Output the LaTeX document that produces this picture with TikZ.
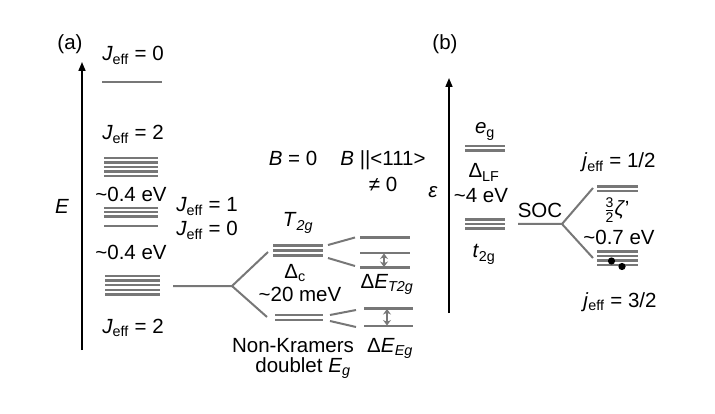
\documentclass[tikz,border=0pt]{standalone}
\usepackage{fontspec}
\setmainfont{Liberation Sans}
\usepackage{amsmath}
\usepackage{xcolor}
\usetikzlibrary{arrows.meta}

\definecolor{lvlgray}{HTML}{777777}
\newcommand{\Jeff}{\textit{J}\textsubscript{eff}}
\newcommand{\jeff}{\textit{j}\textsubscript{eff}}

\begin{document}
\begin{tikzpicture}[x=1pt,y=-1pt,font=\fontsize{20.5}{24}\selectfont,
  level/.style={lvlgray,line width=2.3pt},
  conn/.style={lvlgray,line width=2pt},
  split/.style={lvlgray,line width=2.6pt,{Stealth[length=5.5pt,width=8pt]}-{Stealth[length=5.5pt,width=8pt]}},
  axis/.style={line width=1.6pt,-{Triangle[length=9pt,width=7pt]}},
  lab/.style={anchor=base,inner sep=0pt}]
\useasboundingbox (0,0) rectangle (715,414);

\node[lab] (pa) at (70,50) {(a)};
\node[lab] (pb) at (445,50) {(b)};

\coordinate (Ebot) at (82,350);
\coordinate (Etop) at (82,62);
\draw[axis] (Ebot) -- (Etop);
\node[lab] (Elab) at (62,214) {\textit{E}};

\node[lab] (J0top) at (133,61) {\Jeff{} = 0};
\draw[level] (102,82) -- (162,82);
\node[lab] (J2top) at (133,140) {\Jeff{} = 2};
\foreach \y in {158,162.5,167,171.5,176}
  \draw[level] (104,\y) -- (158,\y);
\node[lab] (gapA) at (131,202) {\textasciitilde 0.4 eV};
\foreach \y in {208,212.3,216.6}
  \draw[level] (104,\y) -- (158,\y);
\draw[level] (104,226) -- (158,226);
\node[lab] (J1) at (207,212) {\Jeff{} = 1};
\node[lab] (J0) at (207,236) {\Jeff{} = 0};
\node[lab] (gapB) at (131,259) {\textasciitilde 0.4 eV};
\foreach \y in {276,280.6,285.2,289.8,294.4}
  \draw[level] (105,\y) -- (160,\y);
\node[lab] (J2bot) at (133,333) {\Jeff{} = 2};

\coordinate (lowR) at (173,286);
\coordinate (forkA) at (232,286);
\coordinate (t2gL) at (268,252);
\coordinate (egL) at (267,317);
\draw[conn] (lowR) -- (forkA) -- (t2gL);
\draw[conn] (forkA) -- (egL);

\foreach \y in {245.5,250.5,255.5}
  \draw[level] (273,\y) -- (323,\y);
\foreach \y in {315,320}
  \draw[level] (275,\y) -- (323,\y);

\node[lab] (Bzero) at (293,166) {\textit{B} = 0};
\node[lab] (Bfield) at (383,166) {\textit{B} ||<111>};
\node[lab] (Bne) at (383,192) {≠ 0};
\node[lab] (T2g) at (298,227) {\textit{T}\textsubscript{\textit{2g}}};
\node[lab] (Dc) at (295,278) {Δ\textsubscript{c}};
\node[lab] (meV) at (300,301) {\textasciitilde 20 meV};
\node[lab] (NK) at (293,352) {Non-Kramers};
\node[lab] (dbl) at (303,372) {doublet \textit{E}\textsubscript{\textit{g}}};

\coordinate (t2gRa) at (328,245);
\coordinate (t2gRb) at (328,258);
\coordinate (t2gSa) at (355,237.5);
\coordinate (t2gSb) at (355,266);
\draw[conn] (t2gRa) -- (t2gSa);
\draw[conn] (t2gRb) -- (t2gSb);
\foreach \y in {237.5,253,267.5}
  \draw[level] (360,\y) -- (410,\y);
\draw[split] (384,253.5) -- (384,267);
\node[lab] (dET) at (387,288) {Δ\textit{E}\textsubscript{\textit{T2g}}};

\coordinate (egRa) at (330,315);
\coordinate (egRb) at (330,321);
\coordinate (egSa) at (356,310);
\coordinate (egSb) at (356,327);
\draw[conn] (egRa) -- (egSa);
\draw[conn] (egRb) -- (egSb);
\foreach \y in {308.5,326}
  \draw[level] (364,\y) -- (413,\y);
\draw[split] (387,309) -- (387,325.5);
\node[lab] (dEE) at (390,352) {Δ\textit{E}\textsubscript{\textit{Eg}}};

\coordinate (ebot) at (449,313);
\coordinate (etop) at (449,78);
\draw[axis] (ebot) -- (etop);
\node[lab] (eps) at (433,198) {\textit{ε}};

\node[lab] (eg) at (485,134) {\textit{e}\textsubscript{g}};
\foreach \y in {146,150.5}
  \draw[level] (465,\y) -- (505,\y);
\node[lab] (DLF) at (484,178) {Δ\textsubscript{LF}};
\node[lab] (foureV) at (481,203) {\textasciitilde 4 eV};
\foreach \y in {219.5,224,228.5}
  \draw[level] (465,\y) -- (505,\y);
\node[lab] (t2g) at (484,258) {\textit{t}\textsubscript{2g}};

\node[lab] (SOC) at (540,218) {SOC};
\coordinate (socL) at (518,224);
\coordinate (forkB) at (562,224);
\coordinate (jhalfL) at (593,188);
\coordinate (jthreeL) at (593,258);
\draw[conn] (socL) -- (forkB) -- (jhalfL);
\draw[conn] (forkB) -- (jthreeL);

\node[lab] (jhalf) at (619,168) {\jeff{} = 1/2};
\foreach \y in {186.5,191}
  \draw[level] (597,\y) -- (638,\y);
\node[anchor=center,inner sep=0pt] (zeta) at (617,210)
  {$\frac{\text{\fontsize{14}{14}\selectfont 3}}{\text{\fontsize{14}{14}\selectfont 2}}$\textit{ζ}'};
\node[lab] (sevenEV) at (619,245) {\textasciitilde 0.7 eV};
\foreach \y in {251.5,256,260.5,265}
  \draw[level] (597,\y) -- (638,\y);
\fill (611.5,261) circle (3.6pt);
\fill (622,266.5) circle (3.6pt);
\node[lab] (jthree) at (620,307) {\jeff{} = 3/2};
\end{tikzpicture}
\end{document}
